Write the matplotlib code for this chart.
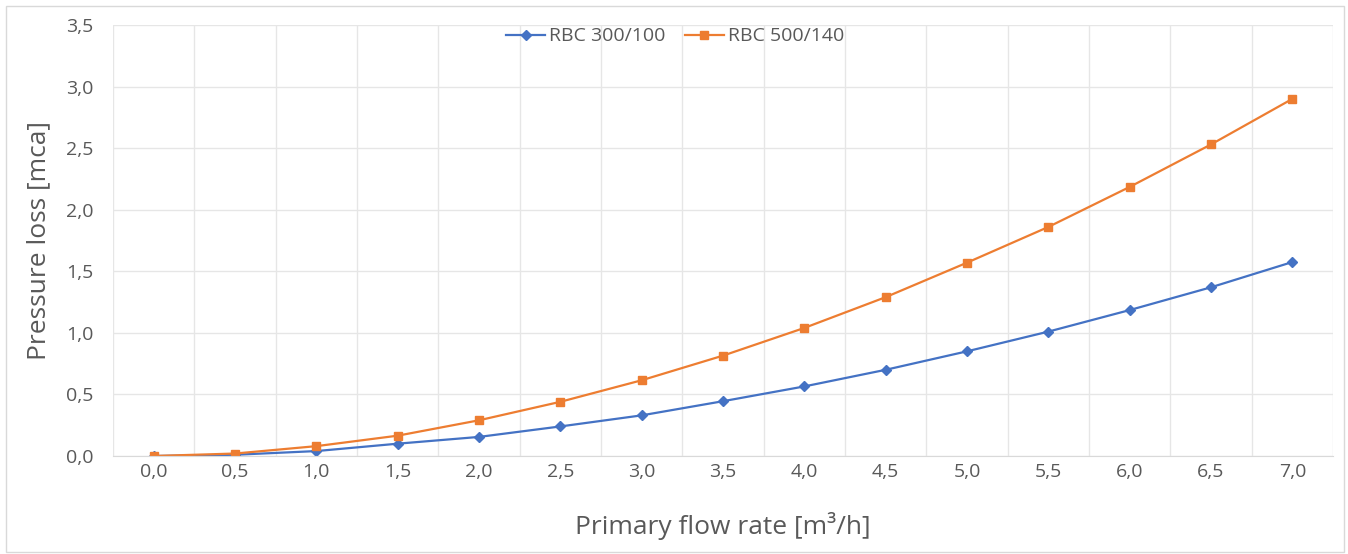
import matplotlib.pyplot as plt
from matplotlib.patches import Rectangle

# Data
flow = ['0,0', '0,5', '1,0', '1,5', '2,0', '2,5', '3,0', '3,5',
        '4,0', '4,5', '5,0', '5,5', '6,0', '6,5', '7,0']
rbc_300 = [0.0, 0.01, 0.04, 0.10, 0.155, 0.24, 0.33, 0.445,
           0.565, 0.70, 0.85, 1.01, 1.185, 1.37, 1.575]
rbc_500 = [0.0, 0.02, 0.08, 0.165, 0.29, 0.44, 0.615, 0.815,
           1.04, 1.29, 1.57, 1.86, 2.185, 2.53, 2.90]
y_ticks = [0.0, 0.5, 1.0, 1.5, 2.0, 2.5, 3.0, 3.5]

plt.rcParams['font.family'] = ['Open Sans', 'DejaVu Sans']
gray = '#595959'

fig = plt.figure(figsize=(13.48, 5.54), dpi=100)
ax = fig.add_axes([113 / 1348, 1 - 456 / 554, 1220 / 1348, 431 / 554])

x = list(range(len(flow)))
ax.plot(x, rbc_300, color='#4472C4', lw=1.6, marker='D', ms=5, label='RBC 300/100')
ax.plot(x, rbc_500, color='#ED7D31', lw=1.6, marker='s', ms=6, label='RBC 500/140')

ax.set_xlim(-0.5, len(flow) - 0.5)
ax.set_ylim(0, 3.5)
ax.set_xticks(x)
ax.set_xticklabels(flow)
ax.set_yticks(y_ticks)
ax.set_yticklabels([f'{v:.1f}'.replace('.', ',') for v in y_ticks])

# category boundary gridlines like the original
ax.set_xticks([i - 0.5 for i in range(len(flow) + 1)], minor=True)
ax.grid(which='minor', axis='x', color='#E6E6E6', lw=1)
ax.grid(which='major', axis='y', color='#E6E6E6', lw=1)
ax.set_axisbelow(True)
ax.tick_params(which='both', length=0)
ax.tick_params(axis='both', labelsize=14, colors=gray)
ax.tick_params(axis='x', pad=5)
ax.tick_params(axis='y', pad=14)

for s in ['top', 'right', 'left']:
    ax.spines[s].set_visible(False)
ax.spines['bottom'].set_color('#D9D9D9')

ax.set_xlabel('Primary flow rate [m³/h]', fontsize=19, color=gray, labelpad=22)
ax.set_ylabel('Pressure loss [mca]', fontsize=19, color=gray, labelpad=11)

fig.legend(loc='upper center', bbox_to_anchor=(675 / 1348, 1 - 10 / 554), ncol=2,
           frameon=False, fontsize=14, labelcolor=gray, handlelength=2.0,
           columnspacing=1.0, handletextpad=0.2)

fig.patches.append(Rectangle((6 / 1348, 2 / 554), 1338 / 1348, 546 / 554,
                             transform=fig.transFigure, fill=False,
                             edgecolor='#D9D9D9', lw=1))

fig.savefig('out.png', dpi=100)
